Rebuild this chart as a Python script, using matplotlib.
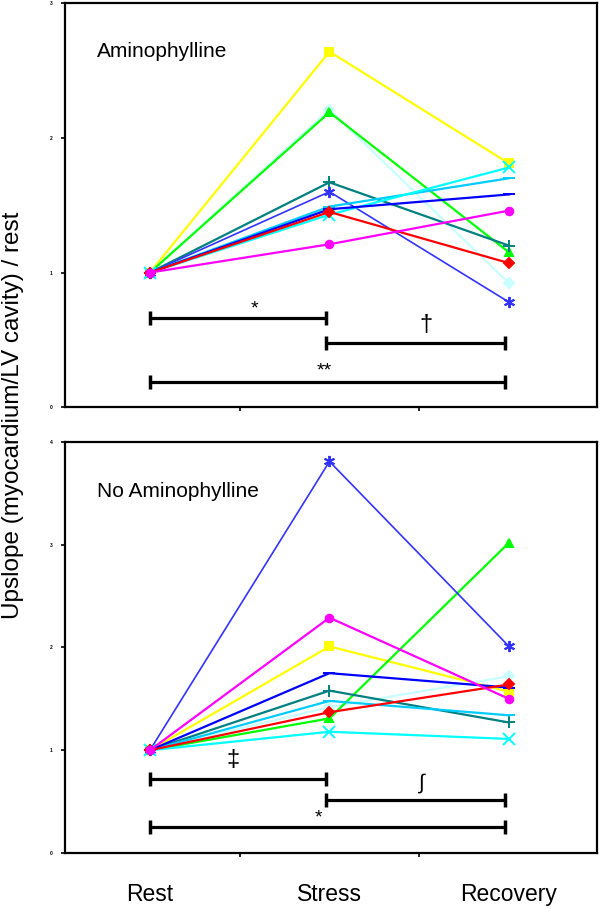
import matplotlib
matplotlib.use("Agg")
import matplotlib.pyplot as plt

plt.rcParams['font.family'] = ['Liberation Sans', 'DejaVu Sans']

# x categories (Rest, Stress, Recovery); every series starts at 1.0 at rest
phases = ['Rest', 'Stress', 'Recovery']
rest_value = 1.0

# series styles, same order in both panels
colors = ['#FFFF00', '#C8FFFF', '#00FF00', '#008080', '#3333FF',
          '#00CCFF', '#00FFFF', '#0000FF', '#FF0000', '#FF00FF']
markers = ['s', 'D', '^', '+', (6, 2, 0), '_', 'x', '_', 'D', 'o']

# Aminophylline panel
amino_stress = [2.64, 2.21, 2.19, 1.67, 1.60, 1.49, 1.43, 1.47, 1.45, 1.21]
amino_recovery = [1.81, 0.92, 1.15, 1.20, 0.78, 1.70, 1.78, 1.58, 1.07, 1.46]

# No Aminophylline panel
noamino_stress = [2.01, 1.42, 1.31, 1.58, 3.81, 1.48, 1.18, 1.75, 1.37, 2.29]
noamino_recovery = [1.57, 1.72, 3.02, 1.27, 2.01, 1.34, 1.11, 1.61, 1.64, 1.50]

# significance brackets: (start, end, height, symbol)
amino_sig = [(0, 0.98, 0.66, '*'), (0.98, 1.98, 0.475, '\u2020'), (0, 1.98, 0.185, '**')]
noamino_sig = [(0, 0.98, 0.72, '\u2021'), (0.98, 1.98, 0.52, '\u222b'), (0, 1.98, 0.25, '*')]

fig = plt.figure(figsize=(6, 9.09), dpi=100)
ax1 = fig.add_axes([0.108, 0.552, 0.887, 0.4445])
ax2 = fig.add_axes([0.108, 0.0616, 0.887, 0.4522])


def draw_panel(ax, stress, recovery, sig, title, ymax, sig_offsets):
    for c, m, s, r in zip(colors, markers, stress, recovery):
        lw = 1.2 if m == (6, 2, 0) else 1.6
        ms = 8 if m in ('_', '+', 'x', (6, 2, 0)) else 5.5
        ax.plot(range(3), [rest_value, s, r], color=c, lw=lw,
                marker=m, ms=ms, mec=c, mfc=c, mew=1.4)
    for (x0, x1, h, sym), (tx, ty, fs) in zip(sig, sig_offsets):
        ax.plot([x0, x1], [h, h], color='black', lw=2.3,
                marker='|', ms=10, mew=2.5, solid_capstyle='butt')
        ax.text(tx, ty, sym, ha='center', va='center', fontsize=fs)
    ax.text(0.06, 0.88, title, transform=ax.transAxes,
            fontsize=15, va='center', ha='left')
    ax.set_xlim(-0.474, 2.49)
    ax.set_ylim(0, ymax)
    ax.set_yticks(range(ymax + 1))
    ax.set_yticklabels([str(v) for v in range(ymax + 1)], fontsize=3.5,
                       fontweight='bold')
    ax.set_xticks([0.5, 1.5])
    ax.tick_params(axis='both', direction='out', length=3, width=1.2, pad=6)
    ax.tick_params(axis='x', labelbottom=False)
    for sp in ax.spines.values():
        sp.set_linewidth(1.6)


draw_panel(ax1, amino_stress, amino_recovery, amino_sig, 'Aminophylline', 3,
           [(0.585, 0.73, 14), (1.54, 0.61, 17), (0.97, 0.27, 14)])
draw_panel(ax2, noamino_stress, noamino_recovery, noamino_sig, 'No Aminophylline', 4,
           [(0.46, 0.905, 17), (1.51, 0.68, 15), (0.94, 0.34, 14)])

for x, lab in zip(range(3), phases):
    fig.text(ax2.transData.transform((x, 0))[0] / fig.dpi / 6, 0.0155, lab,
             ha='center', va='center', fontsize=16.5)

fig.text(0.022, 0.543, 'Upslope (myocardium/LV cavity) / rest', rotation=90,
         ha='center', va='center', fontsize=17.5)

fig.savefig('out.png', dpi=100)
plt.close(fig)
